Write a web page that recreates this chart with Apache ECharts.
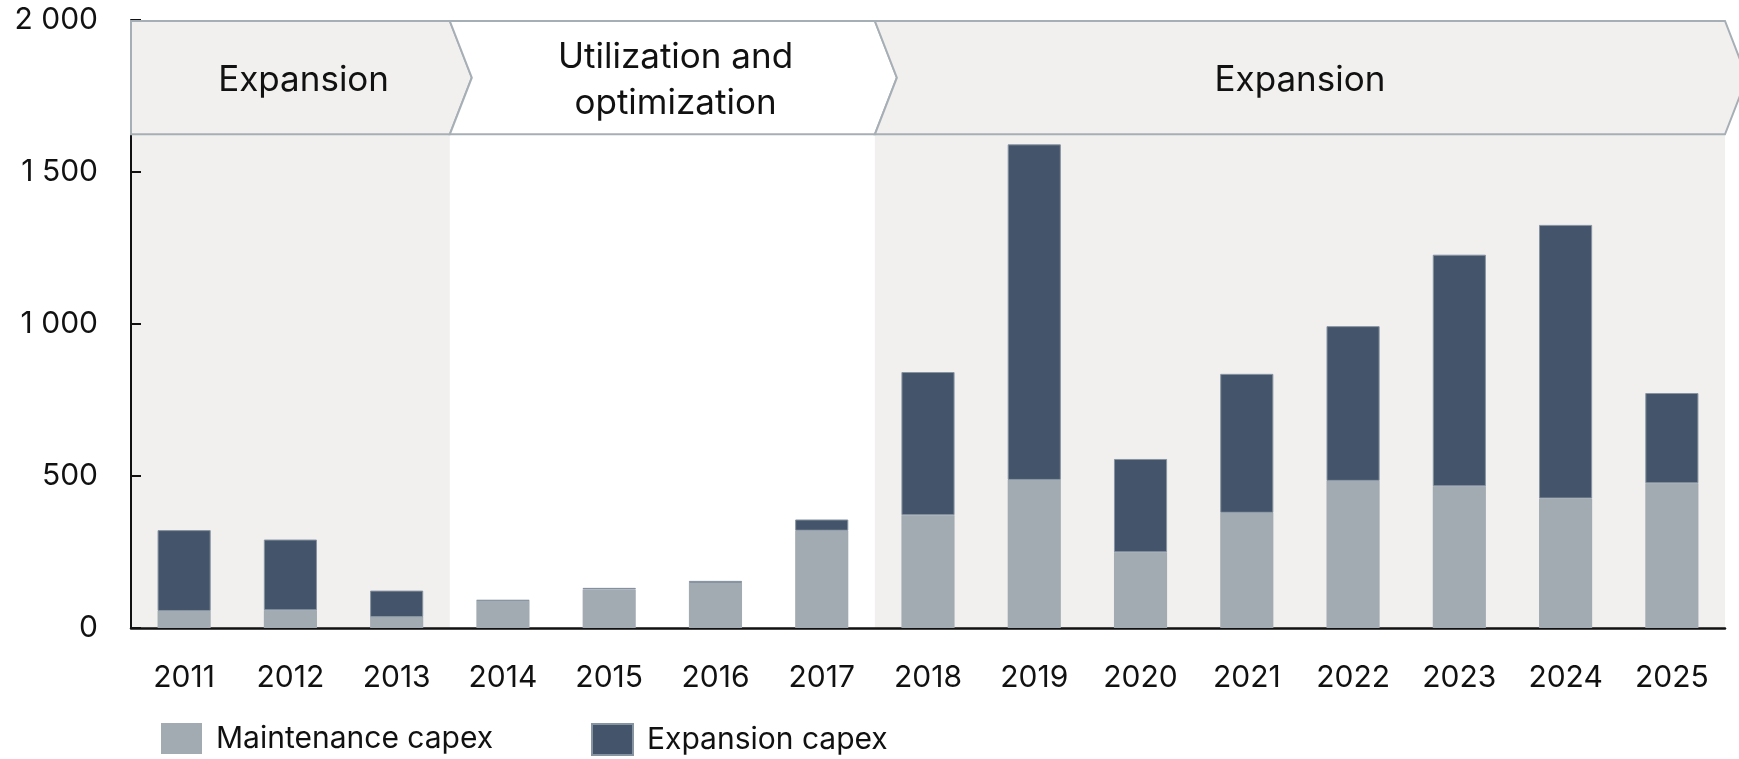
<!DOCTYPE html>
<html>
<head>
<meta charset="utf-8">
<title>Capex</title>
<script src="https://cdn.jsdelivr.net/npm/echarts@6/dist/echarts.min.js"></script>
<style>
    html, body { margin: 0; padding: 0; background: #fff; }
    #chart { width: 1739px; height: 759px; }
</style>
</head>
<body>
<div id="chart"></div>
<script>
var years = ['2011', '2012', '2013', '2014', '2015', '2016', '2017', '2018', '2019', '2020', '2021', '2022', '2023', '2024', '2025'];
var maintenance = [56, 58, 36, 90, 127, 148, 320, 371, 487, 249, 379, 484, 466, 426, 476];
var expansion = [266, 233, 87, 2, 5, 7, 37, 471, 1104, 307, 457, 509, 762, 900, 297];
var yTicks = [0, 500, 1000, 1500, 2000];

var phaseNames = ['Expansion', 'Utilization and\noptimization', 'Expansion'];
var phaseFrom = ['2011', '2014', '2018'];
var phaseTo = ['2013', '2017', '2025'];

var FONT = 'Inter, "Noto Sans", sans-serif';
var TEXT = '#111111';
var SHADE = '#F1F0EE';
var EDGE = '#A7AFB6';
var HEADER_FROM = 1624;
var TIP = 22;

function fmt(v) {
    return String(v).replace(/\B(?=(\d{3})+(?!\d))/g, ' ');
}

var phaseData = phaseFrom.map(function (f, i) {
    return [years.indexOf(f), years.indexOf(phaseTo[i]), i];
});

function renderBackground(params, api) {
    var i = api.value(2);
    if (phaseNames[i] !== 'Expansion') return null;
    var bw = api.size([1, 0])[0];
    var l = api.coord([api.value(0), 0])[0] - bw / 2;
    var r = api.coord([api.value(1), 0])[0] + bw / 2;
    var y0 = api.coord([0, 0])[1];
    var y1 = api.coord([0, HEADER_FROM])[1];
    return {
        type: 'rect',
        shape: { x: l, y: y1, width: r - l, height: y0 - y1 },
        style: { fill: SHADE }
    };
}

function renderHeader(params, api) {
    var i = api.value(2);
    var bw = api.size([1, 0])[0];
    var l = api.coord([api.value(0), 0])[0] - bw / 2;
    var r = api.coord([api.value(1), 0])[0] + bw / 2;
    var top = api.coord([0, yTicks[yTicks.length - 1]])[1] + 1;
    var bot = api.coord([0, HEADER_FROM])[1];
    var mid = (top + bot) / 2;
    var pts = [[l, top], [r, top], [r + TIP, mid], [r, bot], [l, bot]];
    if (i > 0) pts.push([l + TIP, mid]);
    // last chevron runs off the edge, its label sits on the plain middle
    var cx = (l + r) / 2 + (i === phaseNames.length - 1 ? 0 : TIP * 0.6);
    return {
        type: 'group',
        children: [{
            type: 'polygon',
            shape: { points: pts },
            style: {
                fill: phaseNames[i] === 'Expansion' ? SHADE : '#FFFFFF',
                stroke: EDGE,
                lineWidth: 2
            }
        }, {
            type: 'text',
            style: {
                text: phaseNames[i],
                x: cx,
                y: mid + 3,
                align: 'center',
                verticalAlign: 'middle',
                fontSize: 35,
                fontFamily: FONT,
                lineHeight: 46,
                fill: TEXT
            }
        }]
    };
}

var chart = echarts.init(document.getElementById('chart'));
var option = {
    animation: false,
    grid: {
        left: 131,
        right: 14,
        top: 20,
        bottom: 131
    },
    legend: [{
        data: ['Maintenance capex'],
        left: 161,
        top: 723,
        padding: 0,
        icon: 'rect',
        itemWidth: 41,
        itemHeight: 31,
        textStyle: { fontSize: 30, fontFamily: FONT, color: TEXT, padding: [0, 0, 0, 9] }
    }, {
        data: ['Expansion capex'],
        left: 591,
        top: 723,
        padding: 0,
        icon: 'rect',
        itemWidth: 41,
        itemHeight: 31,
        textStyle: { fontSize: 30, fontFamily: FONT, color: TEXT, padding: [0, 0, 0, 9] }
    }],
    xAxis: {
        type: 'category',
        data: years,
        axisTick: { show: false },
        axisLine: { lineStyle: { color: '#111', width: 2.5 } },
        axisLabel: {
            fontSize: 30,
            fontFamily: FONT,
            color: TEXT,
            margin: 35
        }
    },
    yAxis: {
        type: 'value',
        min: yTicks[0],
        max: yTicks[yTicks.length - 1],
        interval: yTicks[1] - yTicks[0],
        splitLine: { show: false },
        axisLine: { show: true, lineStyle: { color: '#111', width: 2 } },
        axisTick: { show: true, inside: true, length: 10, lineStyle: { color: '#111', width: 2 } },
        axisLabel: {
            fontSize: 30,
            fontFamily: FONT,
            color: TEXT,
            margin: 33,
            formatter: fmt
        }
    },
    series: [{
        type: 'custom',
        name: 'bg',
        z: 0,
        silent: true,
        renderItem: renderBackground,
        data: phaseData
    }, {
        name: 'Maintenance capex',
        type: 'bar',
        stack: 'capex',
        barWidth: '50%',
        z: 2,
        data: maintenance,
        itemStyle: { color: '#A2AAB2' }
    }, {
        name: 'Expansion capex',
        type: 'bar',
        stack: 'capex',
        barWidth: '50%',
        z: 2,
        data: expansion,
        itemStyle: { color: '#44546A', borderColor: '#8693A1', borderWidth: 1 }
    }, {
        type: 'custom',
        name: 'phases',
        z: 3,
        silent: true,
        clip: false,
        renderItem: renderHeader,
        data: phaseData
    }]
};
chart.setOption(option);
</script>
</body>
</html>
